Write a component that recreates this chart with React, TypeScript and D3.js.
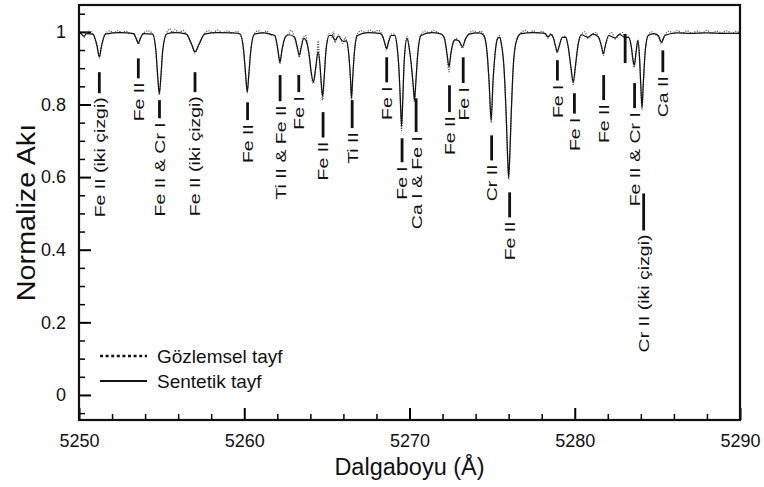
import React, {useEffect, useRef} from "react";
import * as d3 from "d3";

const FONT = "'Liberation Sans', Arial, Helvetica, sans-serif";
const width = 764;
const height = 487;
const margin = {top: 5, right: 24, bottom: 67, left: 79};

const xDomain: [number, number] = [5250, 5290];
const yDomain: [number, number] = [-0.069, 1.074];

const xMajorTicks = [5250, 5260, 5270, 5280, 5290];
const xMinorTicks = [5252, 5254, 5256, 5258, 5262, 5264, 5266, 5268, 5272, 5274, 5276, 5278, 5282, 5284, 5286, 5288];
const yMajorTicks = [0, 0.2, 0.4, 0.6, 0.8, 1];
const yTickLabels = ["0", "0.2", "0.4", "0.6", "0.8", "1"];
const yMinorTicks = [-0.05, 0.05, 0.1, 0.15, 0.25, 0.3, 0.35, 0.45, 0.5, 0.55, 0.65, 0.7, 0.75, 0.85, 0.9, 0.95, 1.05];

// [wavelength (Å), normalized flux]
const syntheticSpectrum: [number, number][] = [
  [5250.0, 0.997], [5250.15, 0.994], [5250.3, 0.988], [5250.45, 0.995], [5250.85, 0.994],
  [5251.1, 0.96], [5251.23, 0.931], [5251.36, 0.96], [5251.6, 0.994], [5252.5, 0.998],
  [5253.3, 0.995], [5253.48, 0.98], [5253.59, 0.968], [5253.7, 0.98], [5253.9, 0.995],
  [5254.45, 0.994], [5254.65, 0.95], [5254.76, 0.88], [5254.86, 0.83], [5254.96, 0.88], [5255.07, 0.95], [5255.3, 0.994],
  [5255.8, 0.998], [5256.5, 0.994], [5256.8, 0.968], [5257.02, 0.945], [5257.25, 0.965], [5257.6, 0.994],
  [5258.4, 0.998], [5259.3, 0.997], [5259.75, 0.994], [5259.96, 0.95], [5260.08, 0.885], [5260.18, 0.835],
  [5260.28, 0.885], [5260.4, 0.95], [5260.62, 0.994], [5261.2, 0.997], [5261.6, 0.993], [5261.85, 0.99],
  [5262.04, 0.95], [5262.16, 0.917], [5262.28, 0.95], [5262.48, 0.985], [5262.7, 0.992],
  [5263.05, 0.985], [5263.22, 0.955], [5263.33, 0.936], [5263.44, 0.955], [5263.6, 0.982], [5263.72, 0.978],
  [5263.92, 0.94], [5264.05, 0.89], [5264.18, 0.862], [5264.32, 0.9], [5264.47, 0.945],
  [5264.58, 0.91], [5264.66, 0.86], [5264.74, 0.823], [5264.83, 0.87], [5264.95, 0.95], [5265.15, 0.99],
  [5265.3, 0.99], [5265.49, 0.977], [5265.7, 0.988], [5265.98, 0.974], [5266.18, 0.975],
  [5266.34, 0.93], [5266.43, 0.87], [5266.49, 0.817], [5266.56, 0.87], [5266.66, 0.94], [5266.85, 0.99],
  [5267.5, 0.998], [5268.2, 0.996], [5268.35, 0.99], [5268.5, 0.97], [5268.61, 0.954], [5268.72, 0.97], [5268.9, 0.99],
  [5269.1, 0.99], [5269.25, 0.96], [5269.36, 0.9], [5269.45, 0.81], [5269.52, 0.74], [5269.59, 0.81], [5269.68, 0.92],
  [5269.85, 0.982], [5270.0, 0.95], [5270.13, 0.9], [5270.23, 0.85], [5270.3, 0.812], [5270.38, 0.86], [5270.5, 0.94],
  [5270.7, 0.99], [5271.3, 0.998], [5271.9, 0.994], [5272.1, 0.985], [5272.27, 0.94], [5272.39, 0.904], [5272.5, 0.94],
  [5272.68, 0.975], [5272.8, 0.978], [5273.0, 0.975], [5273.2, 0.959], [5273.38, 0.98], [5273.6, 0.994],
  [5274.2, 0.997], [5274.5, 0.99], [5274.7, 0.94], [5274.82, 0.86], [5274.94, 0.757], [5275.05, 0.86], [5275.2, 0.95],
  [5275.35, 0.983], [5275.45, 0.985], [5275.55, 0.97], [5275.72, 0.9], [5275.86, 0.76], [5275.95, 0.64], [5276.0, 0.6],
  [5276.06, 0.65], [5276.16, 0.78], [5276.3, 0.92], [5276.5, 0.98], [5276.75, 0.995], [5277.5, 0.998],
  [5278.2, 0.996], [5278.38, 0.986], [5278.55, 0.993], [5278.7, 0.985], [5278.84, 0.96], [5278.94, 0.945],
  [5279.05, 0.96], [5279.25, 0.985], [5279.45, 0.985], [5279.6, 0.96], [5279.75, 0.91], [5279.91, 0.862],
  [5280.05, 0.91], [5280.2, 0.965], [5280.4, 0.992], [5280.8, 0.985], [5281.1, 0.994],
  [5281.45, 0.985], [5281.62, 0.96], [5281.73, 0.94], [5281.84, 0.96], [5282.05, 0.99],
  [5282.44, 0.983], [5282.7, 0.993], [5283.04, 0.985], [5283.25, 0.985], [5283.42, 0.96], [5283.52, 0.925],
  [5283.6, 0.908], [5283.7, 0.94], [5283.82, 0.976], [5283.92, 0.93], [5284.0, 0.85], [5284.07, 0.793],
  [5284.15, 0.86], [5284.27, 0.95], [5284.45, 0.99], [5284.8, 0.995], [5285.05, 0.99], [5285.25, 0.972],
  [5285.45, 0.99], [5286.2, 0.997], [5287.0, 0.996], [5288.0, 0.997], [5289.0, 0.996], [5290.0, 0.996],
];

const observedSpectrum: [number, number][] = [
  [5250.0, 1.0], [5250.15, 0.996], [5250.3, 0.985], [5250.45, 0.997], [5250.65, 1.002], [5250.85, 0.992],
  [5251.1, 0.957], [5251.23, 0.928], [5251.36, 0.962], [5251.6, 0.995], [5251.85, 1.003], [5252.1, 0.997],
  [5252.35, 1.004], [5252.6, 0.998], [5252.85, 1.002], [5253.1, 0.996], [5253.3, 0.995], [5253.48, 0.978],
  [5253.59, 0.966], [5253.7, 0.982], [5253.9, 0.996], [5254.15, 1.003], [5254.45, 0.995], [5254.65, 0.948],
  [5254.76, 0.876], [5254.86, 0.826], [5254.96, 0.878], [5255.07, 0.952], [5255.3, 0.996], [5255.5, 1.008],
  [5255.65, 0.998], [5255.8, 1.006], [5256.05, 0.999], [5256.3, 1.004], [5256.5, 0.994], [5256.8, 0.965],
  [5257.02, 0.942], [5257.25, 0.962], [5257.6, 0.995], [5257.85, 1.003], [5258.1, 0.997], [5258.4, 1.005],
  [5258.7, 0.998], [5259.0, 1.003], [5259.3, 0.996], [5259.55, 1.001], [5259.75, 0.992], [5259.96, 0.948],
  [5260.08, 0.88], [5260.18, 0.832], [5260.28, 0.882], [5260.4, 0.952], [5260.62, 0.995], [5260.85, 1.003],
  [5261.1, 0.997], [5261.35, 1.002], [5261.6, 0.992], [5261.85, 0.988], [5262.04, 0.946], [5262.16, 0.912],
  [5262.28, 0.948], [5262.48, 0.987], [5262.7, 0.995], [5262.85, 1.004], [5263.05, 0.982], [5263.22, 0.952],
  [5263.33, 0.93], [5263.44, 0.958], [5263.6, 0.985], [5263.72, 0.99], [5263.82, 0.965], [5263.92, 0.935],
  [5264.05, 0.885], [5264.18, 0.858], [5264.32, 0.895], [5264.4, 0.93], [5264.47, 0.975], [5264.58, 0.905],
  [5264.66, 0.85], [5264.74, 0.812], [5264.83, 0.865], [5264.95, 0.955], [5265.15, 0.995], [5265.3, 0.985],
  [5265.4, 1.0], [5265.49, 0.97], [5265.6, 0.982], [5265.7, 0.992], [5265.85, 0.978], [5265.98, 0.968],
  [5266.1, 0.985], [5266.18, 0.978], [5266.34, 0.928], [5266.43, 0.865], [5266.49, 0.812], [5266.56, 0.868],
  [5266.66, 0.942], [5266.85, 0.995], [5267.1, 1.003], [5267.35, 0.998], [5267.6, 1.005], [5267.85, 0.999],
  [5268.1, 1.004], [5268.35, 0.992], [5268.5, 0.968], [5268.61, 0.95], [5268.72, 0.972], [5268.9, 0.994],
  [5269.1, 0.993], [5269.25, 0.958], [5269.36, 0.895], [5269.45, 0.8], [5269.52, 0.728], [5269.59, 0.805],
  [5269.68, 0.918], [5269.85, 0.988], [5270.0, 0.948], [5270.13, 0.898], [5270.23, 0.845], [5270.3, 0.806],
  [5270.38, 0.855], [5270.5, 0.938], [5270.7, 0.993], [5270.95, 1.002], [5271.2, 0.997], [5271.45, 1.004],
  [5271.7, 0.998], [5271.9, 0.995], [5272.1, 0.982], [5272.27, 0.935], [5272.39, 0.89], [5272.5, 0.935],
  [5272.68, 0.972], [5272.8, 0.982], [5273.0, 0.972], [5273.2, 0.955], [5273.38, 0.978], [5273.6, 0.995],
  [5273.85, 1.003], [5274.1, 0.997], [5274.3, 1.002], [5274.5, 0.99], [5274.7, 0.938], [5274.82, 0.855],
  [5274.94, 0.75], [5275.05, 0.856], [5275.2, 0.948], [5275.35, 0.985], [5275.45, 0.99], [5275.55, 0.968],
  [5275.72, 0.898], [5275.86, 0.756], [5275.95, 0.635], [5276.0, 0.594], [5276.06, 0.645], [5276.16, 0.776],
  [5276.3, 0.918], [5276.5, 0.978], [5276.75, 0.997], [5277.0, 1.004], [5277.25, 0.998], [5277.5, 1.003],
  [5277.75, 0.997], [5278.0, 1.002], [5278.2, 0.994], [5278.38, 0.983], [5278.55, 0.995], [5278.7, 0.983],
  [5278.84, 0.958], [5278.94, 0.942], [5279.05, 0.958], [5279.25, 0.985], [5279.45, 0.988], [5279.6, 0.958],
  [5279.75, 0.905], [5279.91, 0.855], [5280.05, 0.905], [5280.2, 0.962], [5280.4, 0.992], [5280.6, 1.0],
  [5280.8, 0.982], [5281.1, 0.995], [5281.3, 0.998], [5281.45, 0.983], [5281.62, 0.958], [5281.73, 0.935],
  [5281.84, 0.958], [5282.05, 0.99], [5282.25, 0.998], [5282.44, 0.98], [5282.7, 0.993], [5282.9, 0.998],
  [5283.04, 0.982], [5283.25, 0.986], [5283.42, 0.958], [5283.52, 0.92], [5283.6, 0.902], [5283.7, 0.938],
  [5283.82, 0.978], [5283.92, 0.928], [5284.0, 0.845], [5284.07, 0.785], [5284.15, 0.855], [5284.27, 0.948],
  [5284.45, 0.992], [5284.65, 1.0], [5284.8, 0.994], [5285.05, 0.988], [5285.25, 0.968], [5285.45, 0.99],
  [5285.7, 1.002], [5285.95, 0.996], [5286.2, 1.004], [5286.5, 0.997], [5286.8, 1.003], [5287.1, 0.996],
  [5287.4, 1.002], [5287.7, 0.997], [5288.0, 1.004], [5288.3, 0.996], [5288.6, 1.002], [5288.9, 0.997],
  [5289.2, 1.003], [5289.5, 0.996], [5289.75, 1.001], [5290.0, 0.997],
];

// line identifications: label, wavelength of the marker, marker top / bottom in flux units
const lineLabels = [
  "Fe II (iki çizgi)", "Fe II", "Fe II & Cr I", "Fe II (iki çizgi)", "Fe II", "Ti II & Fe II", "Fe I", "Fe II",
  "Ti II", "Fe I", "Fe I", "Ca I & Fe I", "Fe II", "Fe I", "Cr II", "Fe II", "Fe I", "Fe I", "Fe II", "",
  "Fe II & Cr I", "Cr II (iki çizgi)", "Ca II",
];
const lineWavelengths = [
  5251.23, 5253.59, 5254.87, 5257.02, 5260.2, 5262.17, 5263.3, 5264.77,
  5266.53, 5268.62, 5269.55, 5270.4, 5272.42, 5273.25, 5274.97, 5276.06, 5278.95, 5279.98, 5281.75, 5283.05,
  5283.62, 5284.17, 5285.33,
];
const markerTop = [
  0.889, 0.927, 0.812, 0.889, 0.806, 0.881, 0.881, 0.779,
  0.812, 0.93, 0.707, 0.817, 0.853, 0.93, 0.715, 0.558, 0.922, 0.831, 0.881, 0.994,
  0.859, 0.555, 0.949,
];
const markerBottom = [
  0.831, 0.872, 0.762, 0.834, 0.757, 0.809, 0.834, 0.709,
  0.735, 0.861, 0.641, 0.724, 0.779, 0.859, 0.646, 0.489, 0.866, 0.775, 0.812, 0.914,
  0.79, 0.453, 0.889,
];

const legendLabels = ["Gözlemsel tayf", "Sentetik tayf"];

export default function App(): React.ReactElement {
  const svgRef = useRef<SVGSVGElement>(null);

  useEffect(() => {
    if (svgRef.current === null) return;
    const svg = d3.select(svgRef.current);
    svg.selectAll("*").remove();

    const x = d3.scaleLinear().domain(xDomain).range([margin.left, width - margin.right]);
    const y = d3.scaleLinear().domain(yDomain).range([height - margin.bottom, margin.top]);

    svg.append("defs").append("clipPath").attr("id", "plotClip")
      .append("rect")
      .attr("x", margin.left).attr("y", margin.top)
      .attr("width", width - margin.left - margin.right)
      .attr("height", height - margin.top - margin.bottom);

    // axes, ticks inward
    const xAxis = svg.append("g").attr("transform", `translate(0,${height - margin.bottom})`);
    xAxis.call(d3.axisBottom(x).tickValues(xMajorTicks).tickSize(-12).tickPadding(14).tickFormat(d3.format("d")));
    xAxis.attr("font-size", 18).attr("font-family", FONT);
    xAxis.select(".domain").remove();
    xAxis.selectAll("line").attr("stroke-width", 2);
    xAxis.selectAll("text").attr("fill", "#111");

    const xMinor = svg.append("g").attr("transform", `translate(0,${height - margin.bottom})`);
    xMinor.call(d3.axisBottom(x).tickValues(xMinorTicks).tickSize(-6).tickFormat(() => ""));
    xMinor.select(".domain").remove();
    xMinor.selectAll("line").attr("stroke-width", 1.5);

    const yAxis = svg.append("g").attr("transform", `translate(${margin.left},0)`);
    yAxis.call(d3.axisLeft(y).tickValues(yMajorTicks).tickSize(-12).tickPadding(13)
      .tickFormat((d, i) => yTickLabels[i]));
    yAxis.attr("font-size", 18).attr("font-family", FONT);
    yAxis.select(".domain").remove();
    yAxis.selectAll("line").attr("stroke-width", 2);
    yAxis.selectAll("text").attr("fill", "#111");

    const yMinor = svg.append("g").attr("transform", `translate(${margin.left},0)`);
    yMinor.call(d3.axisLeft(y).tickValues(yMinorTicks).tickSize(-6).tickFormat(() => ""));
    yMinor.select(".domain").remove();
    yMinor.selectAll("line").attr("stroke-width", 1.5);

    // spectra
    const line = d3.line<[number, number]>()
      .x(d => x(d[0]))
      .y(d => y(d[1]))
      .curve(d3.curveMonotoneX);

    const plot = svg.append("g").attr("clip-path", "url(#plotClip)");
    plot.append("path")
      .attr("d", line(observedSpectrum))
      .attr("fill", "none")
      .attr("stroke", "#5a5a5a")
      .attr("stroke-width", 1.3)
      .attr("stroke-dasharray", "1.2,1.3");
    plot.append("path")
      .attr("d", line(syntheticSpectrum))
      .attr("fill", "none")
      .attr("stroke", "#111")
      .attr("stroke-width", 1.2);

    // line identification markers and labels
    const ids = svg.append("g").attr("class", "ids");
    lineLabels.forEach((label, i) => {
      const lx = x(lineWavelengths[i]);
      ids.append("line")
        .attr("x1", lx).attr("x2", lx)
        .attr("y1", y(markerTop[i])).attr("y2", y(markerBottom[i]))
        .attr("stroke", "#111")
        .attr("stroke-width", 2.8);
      if (label === "") return;
      ids.append("text")
        .attr("transform", `translate(${lx},${y(markerBottom[i]) + 4}) rotate(-90) scale(1.3,1)`)
        .attr("text-anchor", "end")
        .attr("dy", "0.36em")
        .attr("font-family", FONT)
        .attr("font-size", 15)
        .attr("fill", "#111")
        .text(label);
    });

    // frame
    svg.append("rect")
      .attr("x", margin.left).attr("y", margin.top)
      .attr("width", width - margin.left - margin.right)
      .attr("height", height - margin.top - margin.bottom)
      .attr("fill", "none")
      .attr("stroke", "#111")
      .attr("stroke-width", 2.2);

    // legend
    const legend = svg.append("g");
    legendLabels.forEach((label, i) => {
      const ly = 356 + i * 25;
      legend.append("line")
        .attr("x1", 100).attr("x2", 147)
        .attr("y1", ly).attr("y2", ly)
        .attr("stroke", "#111")
        .attr("stroke-width", i === 0 ? 2.6 : 2)
        .attr("stroke-dasharray", i === 0 ? "3,2.6" : null);
      legend.append("text")
        .attr("x", 157).attr("y", ly)
        .attr("dy", "0.36em")
        .attr("font-family", FONT)
        .attr("font-size", 19)
        .attr("fill", "#111")
        .text(label);
    });

    // axis titles
    svg.append("text")
      .attr("x", (margin.left + width - margin.right) / 2)
      .attr("y", 475)
      .attr("text-anchor", "middle")
      .attr("font-family", FONT)
      .attr("font-size", 23.5)
      .attr("fill", "#111")
      .text("Dalgaboyu (Å)");

    svg.append("text")
      .attr("transform", `translate(35,${(margin.top + height - margin.bottom) / 2}) rotate(-90) scale(1.15,1)`)
      .attr("text-anchor", "middle")
      .attr("font-family", FONT)
      .attr("font-size", 25)
      .attr("fill", "#111")
      .text("Normalize Akı");
  }, []);

  return (
    <svg ref={svgRef} width={width} height={height}
         style={{position: "absolute", left: 0, top: 0, background: "#fff"}}></svg>
  );
}
